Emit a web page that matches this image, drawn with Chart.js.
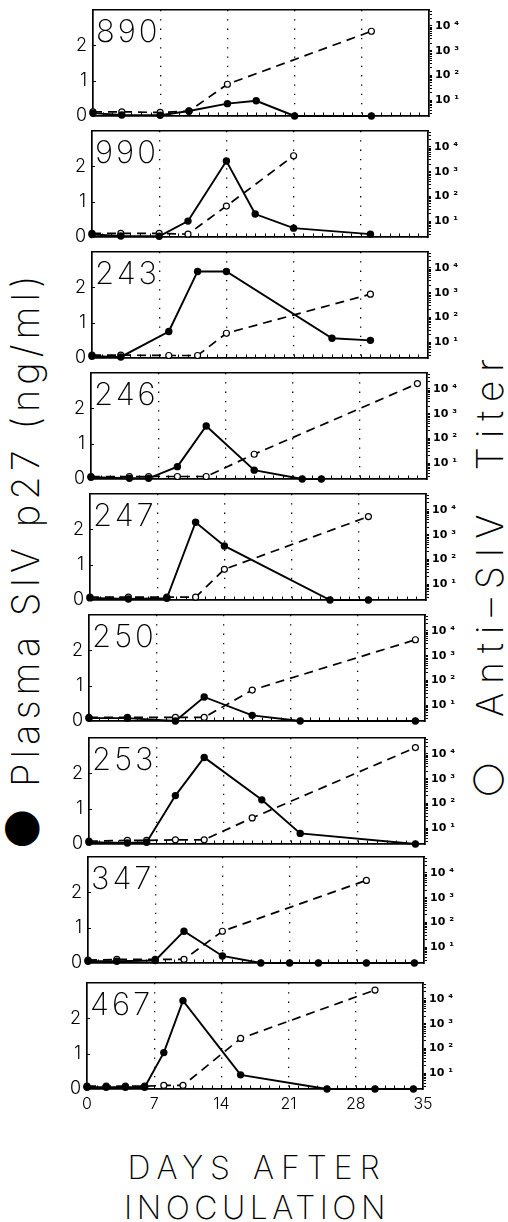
<!DOCTYPE html>
<html><head><meta charset="utf-8">
<script src="https://cdn.jsdelivr.net/npm/chart.js@4/dist/chart.umd.min.js"></script>
<style>
html,body{margin:0;padding:0;background:#fff;}
body{width:508px;height:1222px;position:relative;overflow:hidden;font-family:Inter,"DejaVu Sans",sans-serif;color:#000;}
canvas{position:absolute;left:0;}
.lbl{position:absolute;font-size:31px;font-weight:200;line-height:31px;letter-spacing:3px;white-space:nowrap;}
.vt{position:absolute;white-space:nowrap;transform:translate(-50%,-50%) rotate(-90deg);font-weight:200;line-height:1;}
.xt{position:absolute;left:3px;width:508px;text-align:center;font-weight:200;font-size:32px;line-height:1;}
</style></head><body>
<div class="vt" style="left:22px;top:560px;font-size:38px;letter-spacing:5px"><span style="font-size:46px">●</span> Plasma SIV p27 (ng/ml)</div>
<div class="vt" style="left:489px;top:574px;font-size:37px;letter-spacing:9px;word-spacing:16px"><span style="font-size:40px">○</span> Anti–SIV Titer</div>
<div class="xt" style="top:1152px;letter-spacing:7px">DAYS AFTER</div>
<div class="xt" style="top:1192px;letter-spacing:4.5px">INOCULATION</div>
<script>
// ---- data ----
const animals = ['890','990','243','246','247','250','253','347','467'];
const p27Days = [
  [0,3,7,10,14,17,21,29],
  [0,3,7,10,14,17,21,29],
  [0,3,8,11,14,25,29],
  [0,4,6,9,12,17,22,24],
  [0,4,8,11,14,25,29],
  [0,4,9,12,17,22,34],
  [0,4,6,9,12,18,22,34],
  [0,3,7,10,14,18,21,24,29,34],
  [0,2,4,6,8,10,16,25,30,34]
];
const p27Values = [
  [0.08,0.03,0.02,0.14,0.35,0.43,0,0],
  [0.07,0.03,0.02,0.45,2.15,0.65,0.25,0.08],
  [0.05,0.03,0.75,2.45,2.45,0.56,0.5],
  [0.05,0.02,0.02,0.35,1.5,0.25,0,0],
  [0.06,0.03,0.05,2.2,1.53,0,0],
  [0.08,0.08,0,0.68,0.16,0,0],
  [0.05,0.03,0.05,1.37,2.45,1.25,0.3,0],
  [0.05,0.05,0.07,0.9,0.2,0,0,0,0,0],
  [0.05,0.05,0.05,0.05,1.03,2.5,0.4,0,0,0]
];
const titerDays = [
  [0,3,7,10,14,29],
  [0,3,7,10,14,21],
  [0,3,8,11,14,29],
  [0,4,6,9,12,17,34],
  [0,4,8,11,14,29],
  [0,4,9,12,17,34],
  [0,4,6,9,12,17,34],
  [0,3,7,10,14,29],
  [0,2,4,6,8,10,16,30]
];
const titerValues = [
  [3.4,3.4,3.2,3.6,44,6100],
  [3.2,3.2,3.2,3.0,41,4400],
  [3.0,3.0,2.9,2.9,23,870],
  [2.9,2.9,2.9,2.9,2.9,23,16400],
  [3.0,3.0,3.0,3.0,40,5400],
  [3.2,3.2,3.2,3.2,41,4400],
  [3.0,3.2,3.2,3.4,3.4,26,18000],
  [3.0,3.2,3.2,3.2,44,5000],
  [3.0,3.0,3.0,3.0,3.2,3.2,253,22800]
];
const dayTicks = [0,7,14,21,28,35];
const p27Ticks = [0,1,2];
const titerTicks = [10,100,1000,10000];
const supDigits = {1:'¹',2:'²',3:'³',4:'⁴'};

// ---- layout ----
const FRAME_H = 106, PAD_T = 10, PLOT_W = 336;
const bottoms = [116,237,358,479,600,721,844,963,1089];

const minorTicks = {
  id:'minorTicks',
  beforeDatasetsDraw(chart){
    const {ctx, chartArea, scales} = chart;
    const x = scales.x, y = scales.y;
    ctx.save();
    ctx.strokeStyle = '#000'; ctx.lineWidth = 1;
    for (let d = x.min + 1; d < x.max; d++) {
      const px = Math.round(x.getPixelForValue(d)) + 0.5;
      ctx.beginPath(); ctx.moveTo(px, chartArea.bottom); ctx.lineTo(px, chartArea.bottom - 3.5); ctx.stroke();
    }
    p27Ticks.slice(1).forEach(v => {
      const py = Math.round(y.getPixelForValue(v)) + 0.5;
      ctx.beginPath(); ctx.moveTo(chartArea.left, py); ctx.lineTo(chartArea.left + 3, py); ctx.stroke();
    });
    ctx.restore();
  }
};

function logMinorTicks(){
  const out = [];
  for (let e = 0; e <= 4; e++) for (let m = 1; m <= 9; m++) out.push(m * Math.pow(10, e));
  return out;
}

animals.forEach((name, i) => {
  const last = i === animals.length - 1;
  const left = Math.round(93 - 0.75 * i);
  const padB = last ? 46 : 12;
  const top = bottoms[i] - FRAME_H - PAD_T;
  const H = PAD_T + FRAME_H + padB;
  const cv = document.createElement('canvas');
  cv.width = 508; cv.height = H;
  cv.style.top = top + 'px'; cv.style.width = '508px'; cv.style.height = H + 'px';
  document.body.appendChild(cv);

  const lab = document.createElement('div');
  lab.className = 'lbl';
  lab.textContent = name;
  lab.style.left = (left + 3) + 'px';
  lab.style.top = (bottoms[i] - FRAME_H + 5) + 'px';
  document.body.appendChild(lab);

  new Chart(cv, {
    type: 'line',
    data: { datasets: [
      { data: p27Days[i].map((d,k) => ({x:d, y:p27Values[i][k]})), xAxisID:'x', yAxisID:'y',
        borderColor:'#000', borderWidth:1.9, pointRadius:3.7, pointBackgroundColor:'#000',
        pointBorderColor:'#000', pointBorderWidth:0, tension:0, clip:false, order:0 },
      { data: titerDays[i].map((d,k) => ({x:d, y:titerValues[i][k]})), xAxisID:'x', yAxisID:'yr',
        borderColor:'#000', borderWidth:1.7, borderDash:[9,6], pointRadius:3, pointBackgroundColor:'#fff',
        pointBorderColor:'#000', pointBorderWidth:1.2, tension:0, clip:false, order:1 }
    ]},
    options: {
      responsive:false, animation:false, events:[],
      layout:{ padding:{ top:PAD_T, left:0, right:0, bottom:0 } },
      plugins:{ legend:{display:false}, tooltip:{enabled:false} },
      scales:{
        x:{ type:'linear', position:'bottom', min:0, max:35,
          afterBuildTicks: a => { a.ticks = dayTicks.map(v => ({value:v})); },
          afterFit: a => { a.height = padB; a.paddingLeft = 0; a.paddingRight = 0; },
          ticks:{ display:last, padding:6, color:'#000', maxRotation:0, autoSkip:false,
                  font:{ family:'Inter', size:16, weight:'300' } },
          grid:{ display:true, drawTicks:false, lineWidth:1.3,
                 color: c => (c.tick && (c.tick.value === 0 || c.tick.value === 35)) ? 'rgba(0,0,0,0)' : '#000' },
          border:{ display:true, color:'#000', width:1.7, dash:[1.3,8] } },
        xt:{ type:'linear', position:'top', min:0, max:35,
          ticks:{display:false}, grid:{display:false, drawTicks:false},
          border:{ display:true, color:'#000', width:1.6 },
          afterFit: a => { a.height = 0; a.paddingLeft = 0; a.paddingRight = 0; } },
        y:{ type:'linear', position:'left', min:0, max:3,
          afterBuildTicks: a => { a.ticks = p27Ticks.map(v => ({value:v})); },
          afterFit: a => { a.width = left; a.paddingTop = 0; a.paddingBottom = 0; },
          ticks:{ padding:6, color:'#000', font:{ family:'Inter', size:18, weight:'300' } },
          grid:{ display:false, drawTicks:false },
          border:{ display:true, color:'#000', width:1.7 } },
        yr:{ type:'logarithmic', position:'right', min:2.3, max:44000,
          afterBuildTicks: a => { a.ticks = logMinorTicks().filter(v => v >= a.min && v <= a.max).map(v => ({value:v})); },
          afterFit: a => { a.width = 508 - left - PLOT_W; a.paddingTop = 0; a.paddingBottom = 0; },
          ticks:{ autoSkip:false, padding:3, color:'#000',
                  font:{ family:'DejaVu Sans', size:11, weight:'bold' },
                  callback: v => titerTicks.includes(v) ? '10 ' + supDigits[Math.round(Math.log10(v))] : '' },
          grid:{ display:true, drawOnChartArea:false, drawTicks:true, tickLength:3, color:'#000', lineWidth:1 },
          border:{ display:true, color:'#000', width:1.7 } }
      }
    },
    plugins:[minorTicks]
  });
});
</script>
</body></html>
